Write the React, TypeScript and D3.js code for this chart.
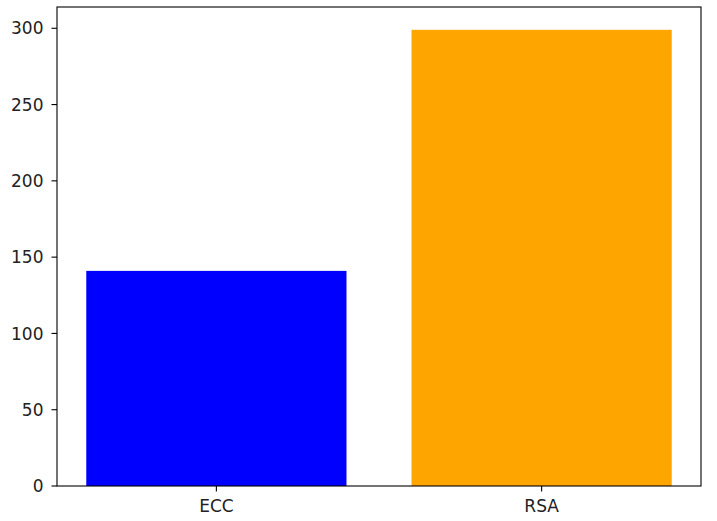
import React from "react";
import * as d3 from "d3";

const categories = ["ECC", "RSA"];
const values = [141, 299];
const colors = ["#0000ff", "#ffa500"];
const yTicks = [0, 50, 100, 150, 200, 250, 300];

const W = 717;
const H = 521;
const M = { left: 57, right: 701, top: 7, bottom: 486 };

export default function App() {
  const n = categories.length;
  const x = d3
    .scaleLinear()
    .domain([-0.4 - 0.09, n - 1 + 0.4 + 0.09])
    .range([M.left, M.right]);
  const yMax = d3.max(values)! * 1.05;
  const y = d3.scaleLinear().domain([0, yMax]).range([M.bottom, M.top]);
  const bw = x(0.8) - x(0);
  const font = "DejaVu Sans, sans-serif";
  const fs = 17;
  return (
    <svg
      width={W}
      height={H}
      style={{ position: "absolute", left: 0, top: 0, background: "#fff" }}
    >
      {values.map((v, i) => (
        <rect
          key={categories[i]}
          x={x(i) - bw / 2}
          y={y(v)}
          width={bw}
          height={y(0) - y(v)}
          fill={colors[i]}
        />
      ))}
      <rect
        x={M.left}
        y={M.top}
        width={M.right - M.left}
        height={M.bottom - M.top}
        fill="none"
        stroke="#000"
        strokeWidth={1.1}
      />
      {yTicks.map((t) => (
        <g key={t} transform={`translate(0,${y(t)})`}>
          <line x1={M.left - 5.5} x2={M.left} stroke="#000" strokeWidth={1.1} />
          <text
            x={M.left - 13.5}
            dy="0.36em"
            textAnchor="end"
            fontFamily={font}
            fontSize={fs}
            fill="#222"
          >
            {t}
          </text>
        </g>
      ))}
      {categories.map((c, i) => (
        <g key={c} transform={`translate(${x(i)},${M.bottom})`}>
          <line y1={0} y2={5.5} stroke="#000" strokeWidth={1.1} />
          <text
            y={13}
            dy="0.76em"
            textAnchor="middle"
            fontFamily={font}
            fontSize={fs}
            fill="#222"
          >
            {c}
          </text>
        </g>
      ))}
    </svg>
  );
}
